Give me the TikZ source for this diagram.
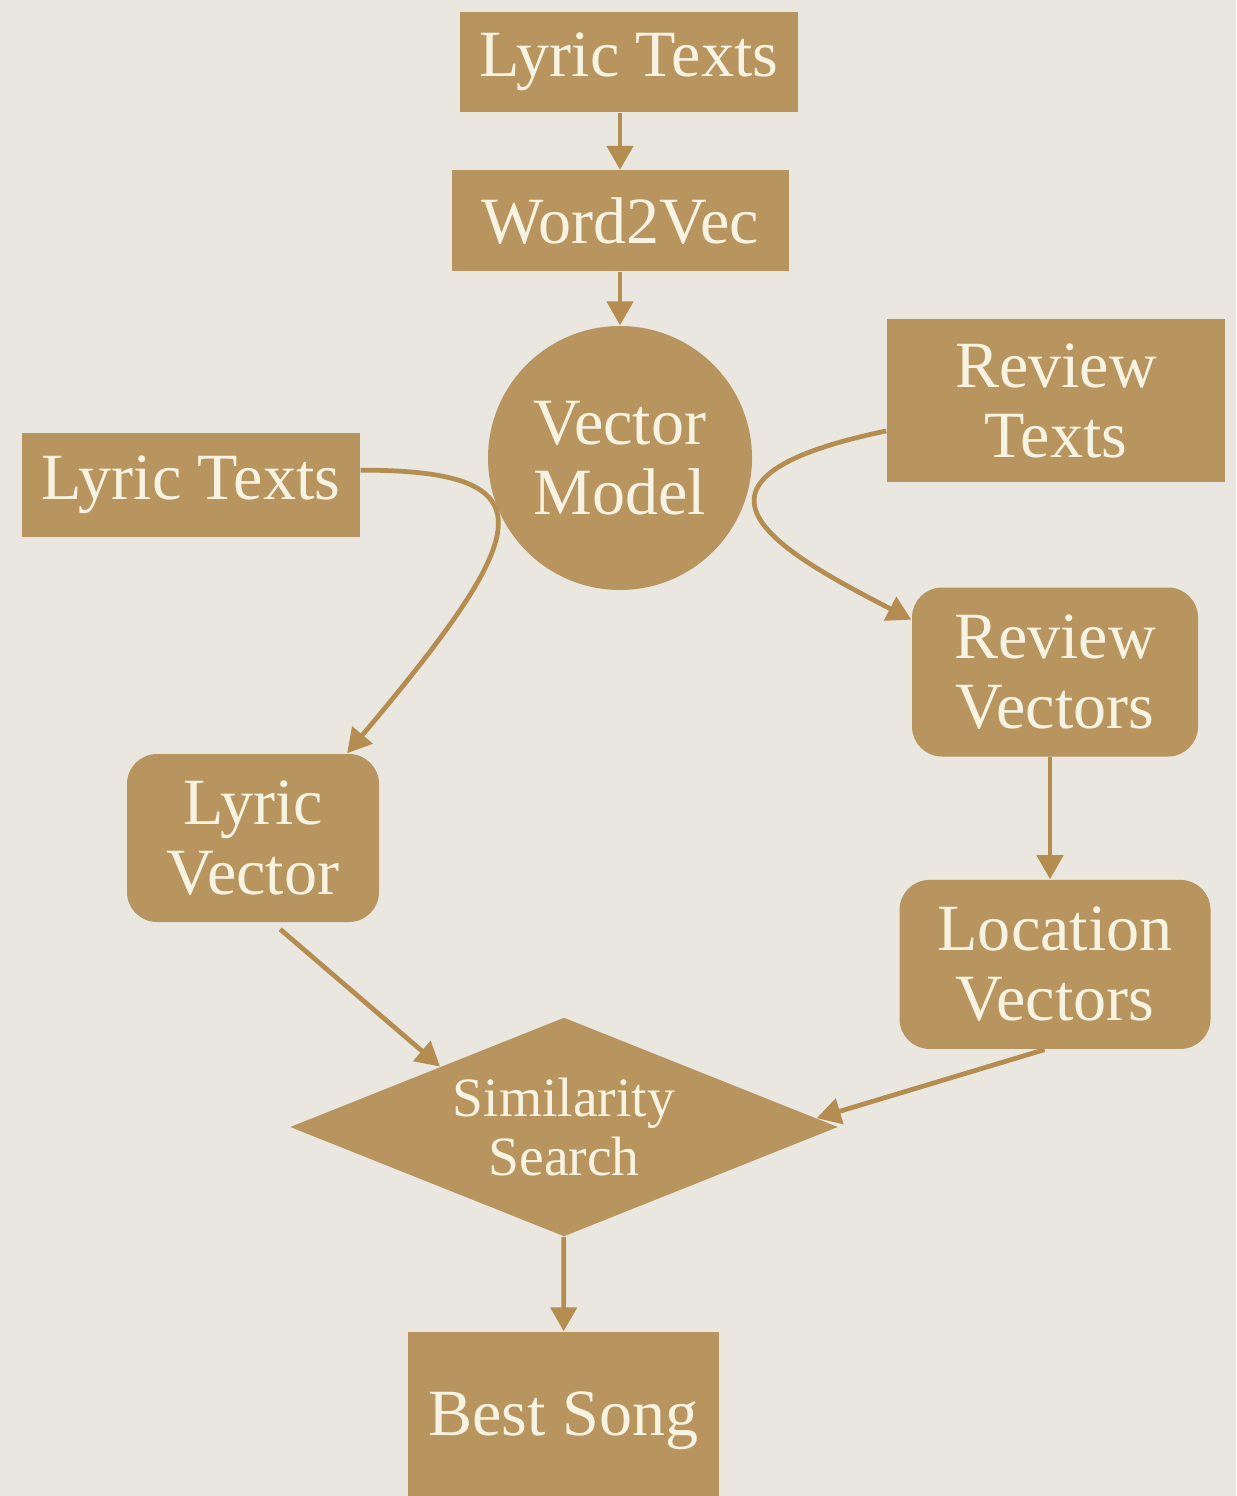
\documentclass[tikz,border=0pt]{standalone}
\usepackage{fontspec}
\setmainfont{Liberation Serif}
\usetikzlibrary{arrows.meta,positioning,shapes.geometric}
\definecolor{paper}{HTML}{E9E7DF}
\definecolor{kraft}{HTML}{B8945F}
\definecolor{cream}{HTML}{F6F3E2}
\definecolor{wire}{HTML}{B58D50}
\tikzset{
  box/.style={fill=kraft,text=cream,align=center,inner sep=0pt,font=\fontsize{18.8}{20}\selectfont},
  rbox/.style={box,rounded corners=0.3cm},
  blob/.style={box,circle,minimum size=2.64cm},
  choice/.style={box,diamond,aspect=2.5,minimum width=5.48cm,minimum height=2.19cm,font=\fontsize{15.8}{16.6}\selectfont},
  flow/.style={-{Triangle[length=2.4mm,width=2.6mm]},line width=1.35pt,color=wire},
}
\begin{document}
\begin{tikzpicture}
  \useasboundingbox (0,0) rectangle (12.36,-14.96);
  \fill[paper] (0,0) rectangle (12.36,-14.96);
  \node[box,minimum width=3.38cm,minimum height=1cm] (lyrtop) at (6.29,-0.62) {Lyric Texts};
  \node[box,minimum width=3.37cm,minimum height=1.01cm] (w2v) at (6.20,-2.21) {Word2Vec};
  \node[blob] (vmodel) at (6.20,-4.58) {Vector\\Model};
  \node[box,minimum width=3.38cm,minimum height=1.03cm] (lyrside) at (1.91,-4.85) {Lyric Texts};
  \node[box,minimum width=3.38cm,minimum height=1.63cm] (revtxt) at (10.56,-4.01) {Review\\Texts};
  \node[rbox,minimum width=2.86cm,minimum height=1.69cm] (revvec) at (10.55,-6.72) {Review\\Vectors};
  \node[rbox,minimum width=2.52cm,minimum height=1.68cm] (lyrvec) at (2.53,-8.38) {Lyric\\Vector};
  \node[rbox,minimum width=3.11cm,minimum height=1.69cm,below=1.22cm of revvec] (locvec) {Location\\Vectors};
  \node[choice] (simsearch) at (5.64,-11.27) {Similarity\\Search};
  \node[box,minimum width=3.11cm,minimum height=1.78cm] (best) at (5.635,-14.21) {Best Song};
  \draw[flow] (lyrtop.south -| w2v.north) -- (w2v.north);
  \draw[flow] (w2v) -- (vmodel);
  \draw[flow] (lyrside.5) .. controls +(1.95,0) and +(1.85,2.2) .. (lyrvec.42);
  \draw[flow] (revtxt.190) .. controls +(-2.4,-0.5) and +(-1.25,0.65) .. (revvec.160);
  \draw[flow] ([xshift=-0.05cm]revvec.south) -- ([xshift=-0.05cm]locvec.north);
  \draw[flow,shorten <=1mm] (lyrvec.-77) -- (simsearch.154);
  \draw[flow] (locvec.-97) -- (simsearch.2);
  \draw[flow] (simsearch) -- (best);
\end{tikzpicture}
\end{document}
